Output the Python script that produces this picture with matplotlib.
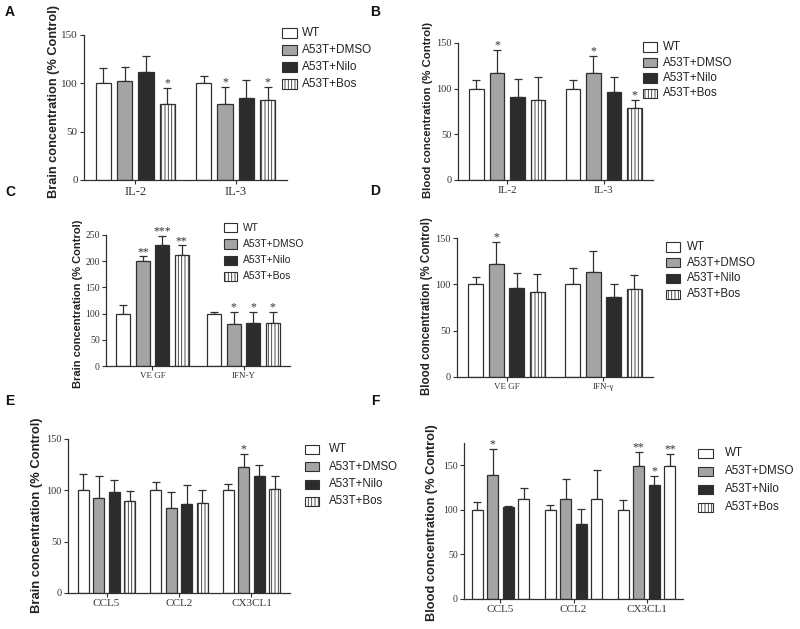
import matplotlib
matplotlib.use('Agg')
import matplotlib.pyplot as plt
from matplotlib.patches import Rectangle

plt.rcParams['hatch.linewidth'] = 0.6

W, H = 800, 629

treatments = ['WT', 'A53T+DMSO', 'A53T+Nilo', 'A53T+Bos']

# panel A - brain IL
a_cats = ['IL-2', 'IL-3']
a_mean = [[100, 100], [102, 79], [112, 85], [79, 83]]
a_err = [[16, 8], [15, 17], [16, 18], [16, 13]]
a_stars = [['', ''], ['', '*'], ['', ''], ['*', '*']]

# panel B - blood IL
b_cats = ['IL-2', 'IL-3']
b_mean = [[100, 100], [117, 117], [91, 96], [88, 79]]
b_err = [[10, 10], [25, 19], [20, 17], [25, 9]]
b_stars = [['', ''], ['*', '*'], ['', ''], ['', '*']]

# panel C - brain VEGF / IFN
c_cats = ['VE GF', 'IFN-\u03a5']
c_mean = [[100, 100], [201, 80], [231, 83], [212, 83]]
c_err = [[16, 3], [8, 24], [18, 21], [18, 21]]
c_stars = [['', ''], ['**', '*'], ['***', '*'], ['**', '*']]

# panel D - blood VEGF / IFN
d_cats = ['VE GF', 'IFN-\u03b3']
d_mean = [[100, 100], [122, 113], [96, 86], [92, 95]]
d_err = [[8, 18], [24, 23], [16, 14], [19, 15]]
d_stars = [['', ''], ['*', ''], ['', ''], ['', '']]

# panel E - brain chemokines
e_cats = ['CCL5', 'CCL2', 'CX3CL1']
e_mean = [[100, 100, 100], [93, 83, 123], [98, 87, 114], [90, 88, 101]]
e_err = [[16, 8, 6], [21, 15, 12], [12, 18, 11], [9, 12, 13]]
e_stars = [['', '', ''], ['', '', '*'], ['', '', ''], ['', '', '']]

# panel F - blood chemokines
f_cats = ['CCL5', 'CCL2', 'CX3CL1']
f_mean = [[100, 100, 100], [139, 112, 149], [103, 84, 128], [112, 112, 149]]
f_err = [[9, 6, 11], [29, 23, 16], [1, 17, 10], [13, 33, 14]]
f_stars = [['', '', ''], ['*', '', '**'], ['', '', '*'], ['', '', '**']]

fills = ['white', '#a4a4a4', '#2c2c2c', 'white']
hatches = [None, None, None, '|||||']
edge = '#303030'
serif = 'Liberation Serif'
sans = 'Liberation Sans'

fig = plt.figure(figsize=(W / 100, H / 100), dpi=100)


def px_axes(left, top, right, bottom):
    return fig.add_axes([left / W, 1 - bottom / H, (right - left) / W, (bottom - top) / H])


def draw_panel(ax, cats, means, errs, stars, ymax, yticks, ysize, xsize,
               bos_hatch=True, gap=4.7, margin=0.9):
    n = len(cats)
    for i in range(4):
        xs = [g * gap + i - 1.5 for g in range(n)]
        h = hatches[i] if bos_hatch else None
        ax.bar(xs, means[i], width=0.72, color=fills[i], edgecolor=edge,
               linewidth=0.9, hatch=h, zorder=2)
        ax.errorbar(xs, means[i], yerr=[[0] * n, errs[i]], fmt='none', ecolor=edge,
                    elinewidth=0.9, capsize=3, capthick=0.9, zorder=1)
        for x, m, e, s in zip(xs, means[i], errs[i], stars[i]):
            if s:
                ax.annotate(s, (x, m + e), xytext=(0, -1), textcoords='offset points',
                            ha='center', va='bottom', fontsize=8.5, family=serif, color='#333333')
    ax.set_xlim(-1.5 - margin, (n - 1) * gap + 1.5 + margin)
    ax.set_ylim(0, ymax)
    ax.set_yticks(yticks)
    ax.set_xticks([g * gap for g in range(n)])
    ax.set_xticklabels(cats)
    for sp in ['top', 'right']:
        ax.spines[sp].set_visible(False)
    for sp in ['left', 'bottom']:
        ax.spines[sp].set_color(edge)
        ax.spines[sp].set_linewidth(0.9)
    ax.tick_params(direction='out', length=3, width=0.8, color=edge, pad=1.5,
                   labelcolor='#333333')
    ax.tick_params(axis='y', labelsize=ysize)
    ax.tick_params(axis='x', labelsize=xsize)
    for lab in ax.get_xticklabels() + ax.get_yticklabels():
        lab.set_family(serif)


def draw_legend(x, y, step, text_x, fs, pw=14, ph=9):
    for i, name in enumerate(treatments):
        yc = y + i * step
        fig.add_artist(Rectangle((x / W, 1 - (yc + ph / 2) / H), pw / W, ph / H,
                                 transform=fig.transFigure, facecolor=fills[i],
                                 edgecolor=edge, linewidth=0.8, hatch=hatches[i]))
        fig.text(text_x / W, 1 - yc / H, name, fontsize=fs, va='center', ha='left',
                 family=sans, color='#222222')


def ylabel(x, y, text, fs):
    fig.text(x / W, 1 - y / H, text, rotation=90, ha='center', va='center',
             fontsize=fs, weight='bold', family=sans, color='#222222')


def letter(x, y, s):
    fig.text(x / W, 1 - y / H, s, ha='center', va='center', fontsize=10,
             weight='bold', family=sans, color='#111111')


ax = px_axes(84, 35, 287, 180)
draw_panel(ax, a_cats, a_mean, a_err, a_stars, 150, [0, 50, 100, 150], 8, 9)
draw_legend(282, 33, 17, 302, 8.5, pw=15)
ylabel(54, 101, 'Brain concentration (% Control)', 9.2)

ax = px_axes(458, 43, 653, 180)
draw_panel(ax, b_cats, b_mean, b_err, b_stars, 150, [0, 50, 100, 150], 7.5, 8)
draw_legend(643, 47, 15.5, 663, 8.4)
ylabel(428, 110, 'Blood concentration (% Control)', 8.2)

ax = px_axes(106, 235, 290, 366)
draw_panel(ax, c_cats, c_mean, c_err, c_stars, 250, [0, 50, 100, 150, 200, 250], 7, 6.5)
draw_legend(224, 228, 16, 243, 7.4, pw=13)
ylabel(78, 304, 'Brain concentration (% Control)', 8)

ax = px_axes(457, 238, 653, 377)
draw_panel(ax, d_cats, d_mean, d_err, d_stars, 150, [0, 50, 100, 150], 7.5, 6.5)
draw_legend(666, 247, 15.7, 687, 8.3)
ylabel(427, 306, 'Blood concentration (% Control)', 8.3)

ax = px_axes(68, 439, 290, 593)
draw_panel(ax, e_cats, e_mean, e_err, e_stars, 150, [0, 50, 100, 150], 7.5, 8, margin=1.0)
draw_legend(305, 449, 17.5, 329, 8.3)
ylabel(37, 515, 'Brain concentration (% Control)', 9.4)

ax = px_axes(464, 443, 683, 599)
draw_panel(ax, f_cats, f_mean, f_err, f_stars, 175, [0, 50, 100, 150], 7, 8,
           bos_hatch=False, margin=0.85)
draw_legend(698, 453, 18, 725, 8.4, pw=15)
ylabel(432, 523, 'Blood concentration (% Control)', 9.2)

letter(10, 12, 'A')
letter(375, 12, 'B')
letter(10, 192, 'C')
letter(375, 191, 'D')
letter(10, 401, 'E')
letter(375, 401, 'F')

fig.savefig('out.png', dpi=100)
